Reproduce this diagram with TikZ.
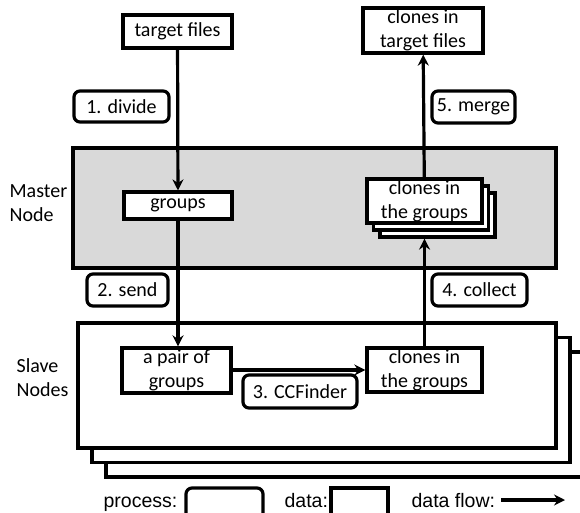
\documentclass[tikz,border=0pt]{standalone}
\usepackage{fontspec}
\setmainfont{Carlito}
\newfontfamily\legendfont{Liberation Sans}
\usetikzlibrary{arrows.meta,shadows}
\definecolor{mastergray}{RGB}{217,217,217}
\begin{document}
\begin{tikzpicture}[x=1pt,y=-1pt,line width=3.2pt,>={Stealth[length=11pt,width=11pt]},
  font=\fontsize{20}{24}\selectfont,
  data/.style={draw,fill=white,inner sep=0pt,align=center},
  proc/.style={draw,fill=white,rounded corners=6pt,inner sep=0pt,align=center},
  machine/.style={draw,inner sep=0pt},
  flow/.style={->}]
\useasboundingbox[fill=white] (0,0) rectangle (580,513);
% master node
\node[machine,fill=mastergray,minimum width=483pt,minimum height=120pt] (master) at (314.5,208) {};
\node[anchor=west,align=left,inner sep=0pt] (masterlbl) at (8,203) {Master\\Node};
% slave nodes
\node[machine,fill=white,minimum width=478pt,minimum height=125pt,
  double copy shadow={shadow xshift=14pt,shadow yshift=-14.5pt}] (slave) at (317,385.5) {};
\node[anchor=west,align=left,inner sep=0pt] (slavelbl) at (15,378) {Slave\\Nodes};
% data
\node[data,minimum width=109pt,minimum height=33pt] (target) at (177.5,31.5) {target files};
\node[data,minimum width=120pt,minimum height=45pt] (result) at (423,30.5) {clones in\\target files};
\node[data,minimum width=108pt,minimum height=27pt] (groups) at (178,205.5) {groups};
\node[data,minimum width=115pt,minimum height=44pt,
  double copy shadow={shadow xshift=6.5pt,shadow yshift=-7pt}] (mclones) at (424.5,201) {clones in\\the groups};
\node[data,minimum width=109pt,minimum height=45pt] (pair) at (176.5,370.5) {a pair of\\groups};
\node[data,minimum width=115pt,minimum height=44pt] (sclones) at (424.5,370) {clones in\\the groups};
% processes
\node[proc,minimum width=95pt,minimum height=31pt] (divide) at (121.5,106.5) {1. divide};
\node[proc,minimum width=83pt,minimum height=32pt] (merge) at (473.5,107) {5. merge};
\node[proc,minimum width=81pt,minimum height=32pt] (send) at (127.5,290) {2. send};
\node[proc,minimum width=95pt,minimum height=32pt] (collect) at (479.5,290) {4. collect};
\node[proc,minimum width=114pt,minimum height=33pt] (ccf) at (300,391.5) {3. CCFinder};
% flows
\draw[flow] (target) -- (groups);
\draw[flow] (groups) -- (groups |- pair.north);
\draw[flow] (pair.east |- sclones) -- (sclones);
\draw[flow] (sclones) -- ([yshift=-14pt]mclones.south);
\draw[flow] (mclones) -- (result);
% legend
\begin{scope}[font=\legendfont\fontsize{19.5}{24}\selectfont]
\node[anchor=base west,inner sep=0pt] (proclbl) at (102,507) {process:};
\node[proc,minimum width=77pt,minimum height=34pt] (procbox) at (224.5,505) {};
\node[anchor=base west,inner sep=0pt] (datalbl) at (283,507) {data:};
\node[data,minimum width=57pt,minimum height=34pt] (databox) at (359.5,505) {};
\node[anchor=base west,inner sep=0pt] (flowlbl) at (410,507) {data flow:};
\coordinate (flowa) at (501,500);
\coordinate (flowb) at (565,500);
\draw[flow] (flowa) -- (flowb);
\end{scope}
\end{tikzpicture}
\end{document}
